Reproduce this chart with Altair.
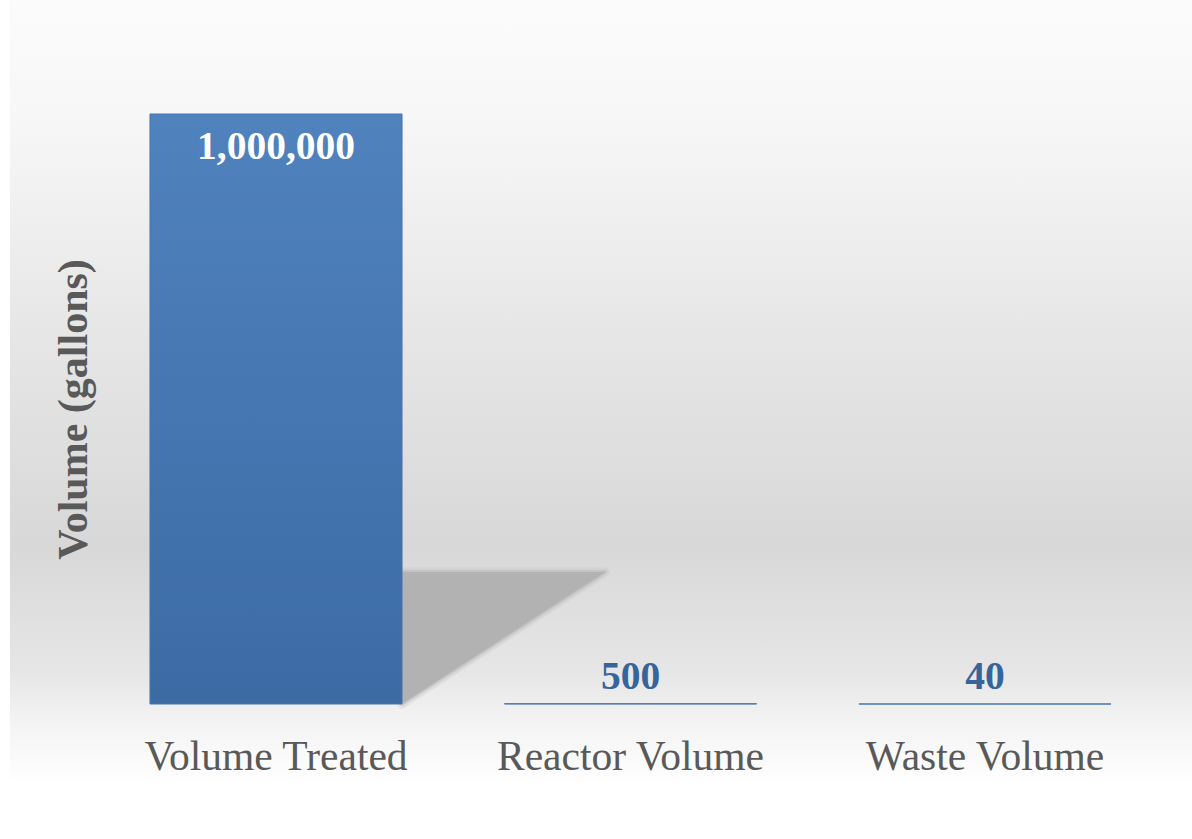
import altair as alt
import pandas as pd

# Values shown on the chart
categories = ["Volume Treated", "Reactor Volume", "Waste Volume"]
volumes = [1000000, 500, 40]

df = pd.DataFrame({"category": categories, "volume": volumes})

PLOT_W = 1063.5
PLOT_H = 590
PAD_L, PAD_T = 98.75, 114
PAD_R, PAD_B = 1192 - PAD_L - PLOT_W, 839 - PAD_T - PLOT_H

SERIF = "Liberation Serif"
GREY_TEXT = "#595959"

x_enc = alt.X(
    "category:N",
    sort=categories,
    scale=alt.Scale(paddingInner=0.289, paddingOuter=0.1445),
    axis=alt.Axis(
        title=None,
        labelAngle=0,
        labelAlign="center",
        labelBaseline="alphabetic",
        labelFont=SERIF,
        labelFontSize=41.5,
        labelColor=GREY_TEXT,
        labelPadding=65,
        labelLimit=0,
        labelOverlap=False,
        ticks=False,
        domain=False,
        grid=False,
        zindex=2,
    ),
)
y_scale = alt.Scale(domain=[0, 1000000], nice=False, zero=True)
y_enc = alt.Y(
    "volume:Q",
    scale=y_scale,
    axis=alt.Axis(
        title="Volume (gallons)",
        labels=False,
        ticks=False,
        domain=False,
        grid=False,
        titleFont=SERIF,
        titleFontSize=42,
        titleFontWeight="bold",
        titleColor=GREY_TEXT,
        titleAngle=270,
        titleAlign="center",
        titleBaseline="alphabetic",
        titleX=-12.75,
        titleY=295,
        zindex=2,
    ),
)

# Soft grey backdrop that darkens toward the lower middle
backdrop_fill = alt.LinearGradient(
    gradient="linear",
    x1=0, y1=0, x2=0, y2=1,
    stops=[
        alt.GradientStop(offset=0.0, color="#fbfbfb"),
        alt.GradientStop(offset=0.15, color="#f7f7f7"),
        alt.GradientStop(offset=0.45, color="#e5e5e5"),
        alt.GradientStop(offset=0.70, color="#d8d8d8"),
        alt.GradientStop(offset=0.86, color="#e6e6e6"),
        alt.GradientStop(offset=0.93, color="#f4f4f4"),
        alt.GradientStop(offset=1.0, color="#fefefe"),
    ],
)
backdrop = alt.Chart(alt.Data(values=[{}])).mark_rect(
    fill=backdrop_fill, strokeWidth=0
).encode(
    x=alt.value(10 - PAD_L),
    x2=alt.value(1192 - PAD_L),
    y=alt.value(-PAD_T),
    y2=alt.value(780 - PAD_T),
)

# Perspective shadow cast by the tall bar (drawn as a custom symbol, 1 unit = 1 px)
shadow_path = "M126,-132 L329,-132 L126,0 Z"
base = alt.Chart(df)
shadow_soft = base.transform_filter("datum.volume >= 100000").mark_point(
    shape=shadow_path, size=4, filled=True, fill="#b2b2b2", fillOpacity=1,
    stroke="#b2b2b2", strokeWidth=9, strokeOpacity=0.22, strokeJoin="round",
).encode(x=alt.X("category:N", sort=categories), y=alt.datum(0, scale=y_scale))
shadow_core = base.transform_filter("datum.volume >= 100000").mark_point(
    shape=shadow_path, size=4, filled=True, fill="#b2b2b2", fillOpacity=1,
    stroke="#b4b4b4", strokeWidth=4, strokeOpacity=0.45, strokeJoin="round",
).encode(x=alt.X("category:N", sort=categories), y=alt.datum(0, scale=y_scale))

bar_fill = alt.LinearGradient(
    gradient="linear",
    x1=0, y1=0, x2=0, y2=1,
    stops=[
        alt.GradientStop(offset=0.0, color="#5082be"),
        alt.GradientStop(offset=1.0, color="#3c6ba4"),
    ],
)
bars = base.mark_bar(
    fill=bar_fill, stroke="#4675b3", strokeWidth=1
).encode(x=x_enc, y=y_enc)

label_big = base.transform_filter("datum.volume >= 100000").mark_text(
    baseline="alphabetic", dy=45, font=SERIF, fontSize=39.5, fontWeight="bold",
    color="#ffffff",
).encode(
    x=alt.X("category:N", sort=categories),
    y=alt.Y("volume:Q", scale=y_scale),
    text=alt.Text("volume:Q", format=","),
)
label_small = base.transform_filter("datum.volume < 100000").mark_text(
    baseline="alphabetic", dy=-15, font=SERIF, fontSize=39.5, fontWeight="bold",
    color="#36659c",
).encode(
    x=alt.X("category:N", sort=categories),
    y=alt.Y("volume:Q", scale=y_scale),
    text=alt.Text("volume:Q", format=","),
)

chart = (
    alt.layer(backdrop, shadow_soft, shadow_core, bars, label_big, label_small)
    .properties(
        width=PLOT_W,
        height=PLOT_H,
        autosize=alt.AutoSizeParams(type="none"),
        padding={"left": PAD_L, "top": PAD_T, "right": PAD_R, "bottom": PAD_B},
        background="#ffffff",
    )
    .configure_view(stroke=None)
    .configure_axis(labelFont=SERIF, titleFont=SERIF)
)

chart.save("out.html", embed_options={"renderer": "svg", "actions": False})
